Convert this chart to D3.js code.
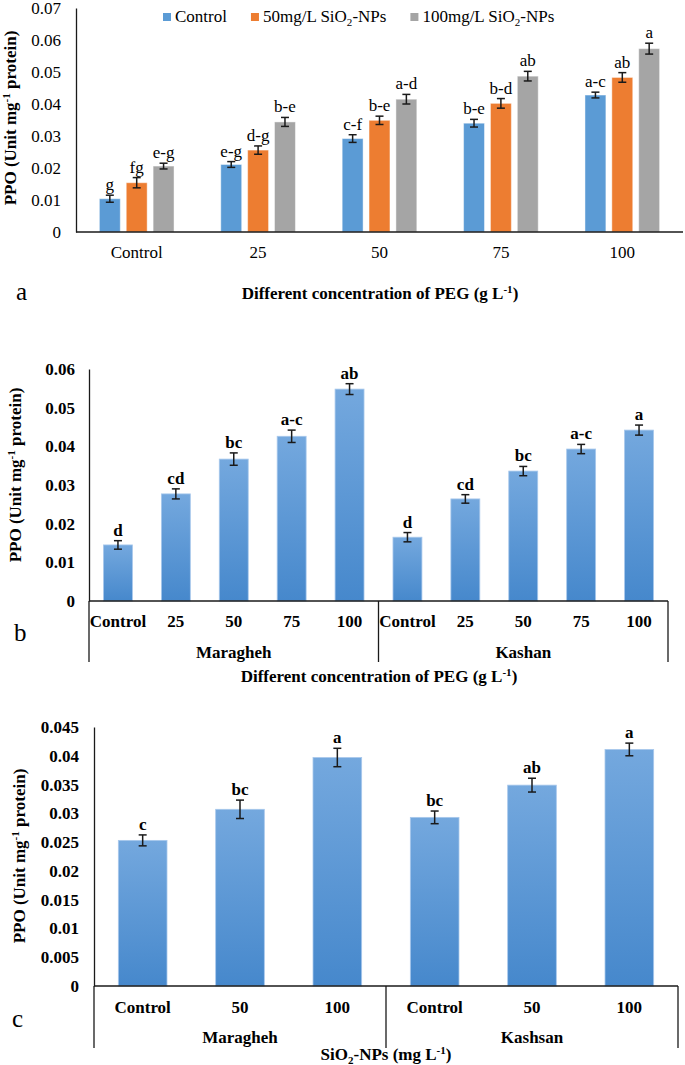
<!DOCTYPE html>
<html><head><meta charset="utf-8">
<script src="https://cdn.jsdelivr.net/npm/d3@7"></script>
<style>
body{margin:0;background:#fff}
svg{display:block}
text{font-family:"Liberation Serif","Times New Roman",serif;fill:#000}
</style>
</head><body>
<svg id="chart" width="685" height="1065"></svg>
<script>
// ---------- Panel a data ----------
const catsA = ["Control", "25", "50", "75", "100"];
const seriesA = ["Control", "50mg/L SiO2-NPs", "100mg/L SiO2-NPs"];
const ctrlA = [0.0104, 0.0211, 0.0292, 0.0340, 0.0428];
const si50A = [0.0154, 0.0256, 0.0349, 0.0402, 0.0483];
const si100A = [0.0206, 0.0344, 0.0415, 0.0487, 0.0573];
const ctrlErrA = [0.0011, 0.0009, 0.0012, 0.0012, 0.0009];
const si50ErrA = [0.0016, 0.0013, 0.0013, 0.0015, 0.0015];
const si100ErrA = [0.0009, 0.0014, 0.0015, 0.0015, 0.0017];
const ctrlLetA = ["g", "e-g", "c-f", "b-e", "a-c"];
const si50LetA = ["fg", "d-g", "b-e", "b-d", "ab"];
const si100LetA = ["e-g", "b-e", "a-d", "ab", "a"];
const ticksA = [0, 0.01, 0.02, 0.03, 0.04, 0.05, 0.06, 0.07];

// ---------- Panel b data ----------
const catsB = ["Control", "25", "50", "75", "100"];
const groupsB = ["Maragheh", "Kashan"];
const maraghehB = [0.0145, 0.0277, 0.0367, 0.0426, 0.0548];
const kashanB = [0.0165, 0.0264, 0.0336, 0.0393, 0.0442];
const maraghehErrB = [0.0011, 0.0013, 0.0016, 0.0016, 0.0014];
const kashanErrB = [0.0012, 0.0011, 0.0012, 0.0012, 0.0013];
const maraghehLetB = ["d", "cd", "bc", "a-c", "ab"];
const kashanLetB = ["d", "cd", "bc", "a-c", "a"];
const ticksB = [0, 0.01, 0.02, 0.03, 0.04, 0.05, 0.06];

// ---------- Panel c data ----------
const catsC = ["Control", "50", "100"];
const groupsC = ["Maragheh", "Kashsan"];
const maraghehC = [0.0253, 0.0307, 0.0397];
const kashsanC = [0.0293, 0.0349, 0.0411];
const maraghehErrC = [0.00095, 0.0016, 0.0016];
const kashsanErrC = [0.0011, 0.0012, 0.0011];
const maraghehLetC = ["c", "bc", "a"];
const kashsanLetC = ["bc", "ab", "a"];
const ticksC = [0, 0.005, 0.01, 0.015, 0.02, 0.025, 0.03, 0.035, 0.04, 0.045];

const colorsA = ["#5b9bd5", "#ed7d31", "#a5a5a5"];
const fmt = d => d === 0 ? "0" : String(+d.toFixed(3));

const svg = d3.select("#chart");
const defs = svg.append("defs");
const grad = defs.append("linearGradient").attr("id", "blueGrad")
  .attr("x1", 0).attr("y1", 0).attr("x2", 0).attr("y2", 1);
grad.append("stop").attr("offset", "0%").attr("stop-color", "#74a8de");
grad.append("stop").attr("offset", "100%").attr("stop-color", "#4688cc");

// helper: text with superscript -1 and subscript 2
function richText(sel, parts, size) {
  parts.forEach(p => {
    const t = sel.append("tspan").text(p.t);
    if (p.sup) t.attr("font-size", size * 0.65).attr("dy", -size * 0.38);
    if (p.sub) t.attr("font-size", size * 0.65).attr("dy", size * 0.25);
    if (p.after) t.attr("dy", p.after);
  });
}
function seriesLabel(sel, name, size) {
  const i = name.indexOf("SiO2");
  if (i < 0) { sel.text(name); return; }
  sel.append("tspan").text(name.slice(0, i) + "SiO");
  sel.append("tspan").text("2").attr("font-size", size * 0.65).attr("dy", size * 0.25);
  sel.append("tspan").text(name.slice(i + 4)).attr("dy", -size * 0.25);
}
function yTitle(g, x, y, size) {
  const t = g.append("text").attr("transform", `translate(${x},${y}) rotate(-90)`)
    .attr("text-anchor", "middle").attr("font-weight", "bold").attr("font-size", size);
  richText(t, [{t: "PPO (Unit mg"}, {t: "-1", sup: true}, {t: " protein)", after: size * 0.38}], size);
}
function xTitle(g, x, y, size, pre, post) {
  const t = g.append("text").attr("x", x).attr("y", y)
    .attr("text-anchor", "middle").attr("font-weight", "bold").attr("font-size", size);
  richText(t, [{t: pre}, {t: "-1", sup: true}, {t: post, after: size * 0.38}], size);
  return t;
}
function yAxis(g, y, x0, ticks, bold, pad) {
  const ax = g.append("g").attr("transform", `translate(${x0},0)`)
    .call(d3.axisLeft(y).tickValues(ticks).tickFormat(fmt).tickSize(0).tickPadding(pad));
  ax.select(".domain").attr("stroke", "#1a1a1a").attr("stroke-width", 1.3);
  ax.selectAll("text").attr("font-size", 17).attr("font-family", '"Liberation Serif",serif')
    .attr("font-weight", bold ? "bold" : "normal").attr("fill", "#000");
}
function errorBars(g, data, capW, bold) {
  // data: {x, v, e, l}
  const eg = g.append("g");
  data.forEach(d => {
    eg.append("line").attr("x1", d.x).attr("x2", d.x).attr("y1", d.y(d.v - d.e)).attr("y2", d.y(d.v + d.e))
      .attr("stroke", "#1a1a1a").attr("stroke-width", 1.5);
    [d.v - d.e, d.v + d.e].forEach(vv => eg.append("line")
      .attr("x1", d.x - capW / 2).attr("x2", d.x + capW / 2).attr("y1", d.y(vv)).attr("y2", d.y(vv))
      .attr("stroke", "#1a1a1a").attr("stroke-width", 1.5));
    eg.append("text").attr("x", d.x).attr("y", d.y(d.v + d.e) - 5).attr("text-anchor", "middle")
      .attr("font-size", 17).attr("font-weight", bold ? "bold" : "normal").text(d.l);
  });
}

// ================= Panel a =================
{
  const g = svg.append("g");
  const x0 = d3.scaleBand().domain(catsA).range([76, 683]);
  const x1 = d3.scaleBand().domain(seriesA).range([0, x0.bandwidth()]).paddingInner(0.222).paddingOuter(0.87);
  const y = d3.scaleLinear().domain([0, 0.07]).range([232, 8]);
  const vals = [ctrlA, si50A, si100A], errs = [ctrlErrA, si50ErrA, si100ErrA], lets = [ctrlLetA, si50LetA, si100LetA];
  seriesA.forEach((s, si) => {
    g.append("g").selectAll("rect").data(catsA).join("rect")
      .attr("x", c => x0(c) + x1(s)).attr("width", x1.bandwidth())
      .attr("y", (c, i) => y(vals[si][i])).attr("height", (c, i) => y(0) - y(vals[si][i]))
      .attr("fill", colorsA[si]).attr("stroke", "#ffffff").attr("stroke-opacity", 0.45).attr("stroke-width", 1);
  });
  seriesA.forEach((s, si) => {
    errorBars(g, catsA.map((c, i) => ({x: x0(c) + x1(s) + x1.bandwidth() / 2, v: vals[si][i], e: errs[si][i], l: lets[si][i], y})), 8, false);
  });
  yAxis(g, y, 76, ticksA, false, 15);
  g.append("line").attr("x1", 76).attr("x2", 683).attr("y1", y(0)).attr("y2", y(0)).attr("stroke", "#1a1a1a").attr("stroke-width", 1.3);
  g.append("g").selectAll("text").data(catsA).join("text")
    .attr("x", c => x0(c) + x0.bandwidth() / 2).attr("y", 258).attr("text-anchor", "middle")
    .attr("font-size", 17).text(c => c);
  // legend
  let lx = 163;
  seriesA.forEach((s, si) => {
    g.append("rect").attr("x", lx).attr("y", 13).attr("width", 8).attr("height", 8).attr("fill", colorsA[si]);
    const t = g.append("text").attr("x", lx + 12).attr("y", 22).attr("font-size", 17);
    seriesLabel(t, s, 17);
    lx += 12 + t.node().getComputedTextLength() + 24;
  });
  yTitle(g, 16, 118, 17);
  xTitle(g, 380, 299, 17, "Different concentration of PEG (g L", ")");
  g.append("text").attr("x", 16).attr("y", 300).attr("font-size", 25).text("a");
}

// ================= Panel b =================
{
  const g = svg.append("g");
  const keys = [];
  groupsB.forEach(gr => catsB.forEach(c => keys.push(gr + "|" + c)));
  const x = d3.scaleBand().domain(keys).range([89, 668]).paddingInner(0.5).paddingOuter(0.25);
  const y = d3.scaleLinear().domain([0, 0.06]).range([601, 369]);
  const vals = [maraghehB, kashanB], errs = [maraghehErrB, kashanErrB], lets = [maraghehLetB, kashanLetB];
  const rows = [];
  groupsB.forEach((gr, gi) => catsB.forEach((c, i) => rows.push({k: gr + "|" + c, c, v: vals[gi][i], e: errs[gi][i], l: lets[gi][i]})));
  g.append("g").selectAll("rect").data(rows).join("rect")
    .attr("x", d => x(d.k)).attr("width", x.bandwidth())
    .attr("y", d => y(d.v)).attr("height", d => y(0) - y(d.v))
    .attr("fill", "url(#blueGrad)").attr("stroke", "#a8c8ec").attr("stroke-width", 0.8);
  errorBars(g, rows.map(d => ({x: x(d.k) + x.bandwidth() / 2, v: d.v, e: d.e, l: d.l, y})), 8, true);
  yAxis(g, y, 89, ticksB, true, 14);
  g.append("line").attr("x1", 89).attr("x2", 668).attr("y1", y(0)).attr("y2", y(0)).attr("stroke", "#1a1a1a").attr("stroke-width", 1.3);
  g.append("g").selectAll("text").data(rows).join("text")
    .attr("x", d => x(d.k) + x.bandwidth() / 2).attr("y", 627).attr("text-anchor", "middle")
    .attr("font-size", 17).attr("font-weight", "bold").text(d => d.c);
  const step = x.step();
  const bounds = [89, 89 + step * catsB.length, 668];
  bounds.forEach(bx => g.append("line").attr("x1", bx).attr("x2", bx).attr("y1", y(0)).attr("y2", 662)
    .attr("stroke", "#1a1a1a").attr("stroke-width", 1.3));
  groupsB.forEach((gr, gi) => g.append("text").attr("x", (bounds[gi] + bounds[gi + 1]) / 2).attr("y", 658)
    .attr("text-anchor", "middle").attr("font-size", 17).attr("font-weight", "bold").text(gr));
  yTitle(g, 21, 475, 17);
  xTitle(g, 379, 682, 17, "Different concentration of PEG (g L", ")");
  g.append("text").attr("x", 14).attr("y", 641).attr("font-size", 25).text("b");
}

// ================= Panel c =================
{
  const g = svg.append("g");
  const keys = [];
  groupsC.forEach(gr => catsC.forEach(c => keys.push(gr + "|" + c)));
  const x = d3.scaleBand().domain(keys).range([94, 678]).paddingInner(0.5).paddingOuter(0.25);
  const y = d3.scaleLinear().domain([0, 0.045]).range([986, 727]);
  const vals = [maraghehC, kashsanC], errs = [maraghehErrC, kashsanErrC], lets = [maraghehLetC, kashsanLetC];
  const rows = [];
  groupsC.forEach((gr, gi) => catsC.forEach((c, i) => rows.push({k: gr + "|" + c, c, v: vals[gi][i], e: errs[gi][i], l: lets[gi][i]})));
  g.append("g").selectAll("rect").data(rows).join("rect")
    .attr("x", d => x(d.k)).attr("width", x.bandwidth())
    .attr("y", d => y(d.v)).attr("height", d => y(0) - y(d.v))
    .attr("fill", "url(#blueGrad)").attr("stroke", "#a8c8ec").attr("stroke-width", 0.8);
  errorBars(g, rows.map(d => ({x: x(d.k) + x.bandwidth() / 2, v: d.v, e: d.e, l: d.l, y})), 8, true);
  yAxis(g, y, 94, ticksC, true, 15);
  g.append("line").attr("x1", 94).attr("x2", 678).attr("y1", y(0)).attr("y2", y(0)).attr("stroke", "#1a1a1a").attr("stroke-width", 1.3);
  g.append("g").selectAll("text").data(rows).join("text")
    .attr("x", d => x(d.k) + x.bandwidth() / 2).attr("y", 1013).attr("text-anchor", "middle")
    .attr("font-size", 17).attr("font-weight", "bold").text(d => d.c);
  const step = x.step();
  const bounds = [94, 94 + step * catsC.length, 678];
  bounds.forEach(bx => g.append("line").attr("x1", bx).attr("x2", bx).attr("y1", y(0)).attr("y2", 1048)
    .attr("stroke", "#1a1a1a").attr("stroke-width", 1.3));
  groupsC.forEach((gr, gi) => g.append("text").attr("x", (bounds[gi] + bounds[gi + 1]) / 2).attr("y", 1043)
    .attr("text-anchor", "middle").attr("font-size", 17).attr("font-weight", "bold").text(gr));
  yTitle(g, 25, 856, 17);
  // SiO2-NPs (mg L-1)
  const t = g.append("text").attr("x", 386).attr("y", 1060).attr("text-anchor", "middle")
    .attr("font-weight", "bold").attr("font-size", 17);
  t.append("tspan").text("SiO");
  t.append("tspan").text("2").attr("font-size", 11).attr("dy", 4);
  t.append("tspan").text("-NPs (mg L").attr("dy", -4);
  t.append("tspan").text("-1").attr("font-size", 11).attr("dy", -6.5);
  t.append("tspan").text(")").attr("dy", 6.5);
  g.append("text").attr("x", 12).attr("y", 1027).attr("font-size", 25).text("c");
}
</script>
</body></html>
